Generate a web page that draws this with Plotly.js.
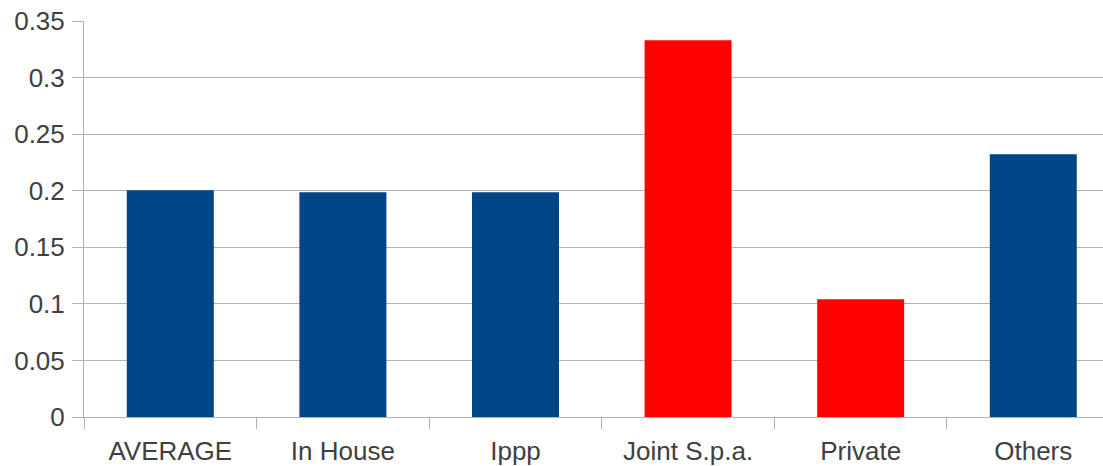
<!DOCTYPE html>
<html>
<head>
<meta charset="utf-8">
<script src="https://cdn.plot.ly/plotly-3.0.1.min.js"></script>
<style>
  html, body { margin: 0; padding: 0; background: #ffffff; overflow: hidden; }
  #chart { width: 1103px; height: 466px; }
</style>
</head>
<body>
<div id="chart"></div>
<script>
const categories = ["AVERAGE", "In House", "Ippp", "Joint S.p.a.", "Private", "Others"];
const values = [0.2004, 0.1986, 0.1986, 0.333, 0.104, 0.2322];
const highlighted = [false, false, false, true, true, false];

const blue = "#004586";
const red = "#ff0000";
const barColors = highlighted.map(h => h ? red : blue);

const textColor = "#404040";
const lineColor = "#b3b3b3";
const font = { family: "Liberation Sans, Arial, sans-serif", size: 26, color: textColor };

const trace = {
  type: "bar",
  x: categories,
  y: values,
  width: 0.504,
  marker: { color: barColors, line: { width: 0 } },
  hoverinfo: "x+y"
};

const layout = {
  width: 1103,
  height: 466,
  margin: { l: 84, r: 0, t: 21, b: 49, pad: 0 },
  paper_bgcolor: "#ffffff",
  plot_bgcolor: "#ffffff",
  font: font,
  showlegend: false,
  xaxis: {
    type: "category",
    range: [-0.5, 5.404],
    tickson: "boundaries",
    ticks: "outside",
    ticklen: 11,
    tickwidth: 1,
    tickcolor: lineColor,
    showgrid: false,
    showline: true,
    linecolor: lineColor,
    linewidth: 1,
    zeroline: false,
    ticklabelstandoff: 11,
    tickfont: font,
    fixedrange: true
  },
  yaxis: {
    range: [0, 0.35],
    tick0: 0,
    dtick: 0.05,
    ticks: "outside",
    ticklen: 11,
    tickwidth: 1,
    tickcolor: lineColor,
    showgrid: true,
    gridcolor: lineColor,
    gridwidth: 1,
    showline: true,
    linecolor: lineColor,
    linewidth: 1,
    zeroline: false,
    ticklabelstandoff: 2,
    tickfont: font,
    fixedrange: true
  }
};

Plotly.newPlot("chart", [trace], layout, { displayModeBar: false, staticPlot: true });
</script>
</body>
</html>
